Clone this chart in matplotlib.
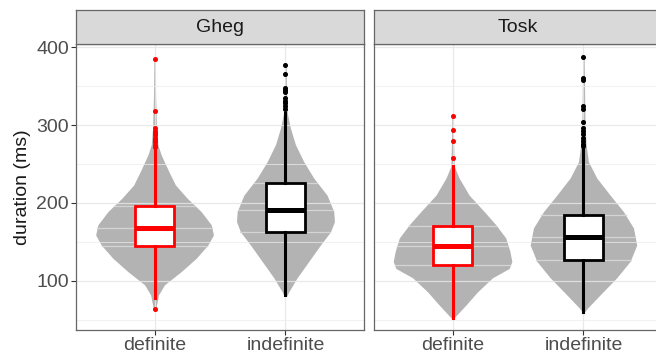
import matplotlib
matplotlib.use("Agg")
import matplotlib.pyplot as plt
import numpy as np

plt.rcParams['font.family'] = ['Liberation Sans', 'DejaVu Sans']

dialects = ["Gheg", "Tosk"]
categories = ["definite", "indefinite"]
colours = ["#ff0000", "#000000"]

# violin outlines: duration (ms) and half width (x units)
gheg_def_y = [385, 339, 296, 275, 262, 240, 223, 206, 189, 172, 159, 146, 129, 112, 95, 82, 65]
gheg_def_w = [0.005, 0.008, 0.015, 0.025, 0.05, 0.11, 0.16, 0.25, 0.356, 0.433, 0.45, 0.407, 0.318, 0.204, 0.076, 0.03, 0.01]
gheg_ind_y = [378, 345, 316, 296, 275, 253, 232, 210, 189, 176, 163, 146, 125, 104, 86, 80]
gheg_ind_w = [0.005, 0.008, 0.013, 0.038, 0.076, 0.14, 0.216, 0.318, 0.369, 0.374, 0.344, 0.267, 0.178, 0.089, 0.025, 0.008]
tosk_def_y = [312, 280, 247, 232, 210, 189, 172, 155, 138, 125, 116, 104, 86, 69, 56, 52]
tosk_def_w = [0.005, 0.008, 0.013, 0.05, 0.127, 0.242, 0.331, 0.407, 0.438, 0.453, 0.433, 0.305, 0.191, 0.102, 0.03, 0.008]
tosk_ind_y = [388, 358, 324, 296, 275, 253, 232, 210, 189, 168, 146, 125, 104, 82, 65, 60]
tosk_ind_w = [0.005, 0.008, 0.01, 0.013, 0.02, 0.038, 0.102, 0.204, 0.305, 0.382, 0.407, 0.356, 0.254, 0.127, 0.03, 0.008]

# box statistics: q1, median, q3, lower whisker, upper whisker
gheg_def_box = [145, 168, 196, 78, 268]
gheg_ind_box = [163, 191, 226, 82, 315]
tosk_def_box = [120, 145, 171, 53, 247]
tosk_ind_box = [127, 156, 184, 60, 270]

gheg_def_out = [385, 318, 296, 293, 290, 287, 284, 281, 278, 275, 272, 64]
gheg_ind_out = [377, 366, 348, 345, 343, 335, 331, 328, 324, 320]
tosk_def_out = [312, 294, 280, 258]
tosk_ind_out = [387, 361, 358, 324, 321, 304, 296, 293, 289, 284, 280, 276, 273]

panels = {
    "Gheg": [(gheg_def_y, gheg_def_w, gheg_def_box, gheg_def_out),
             (gheg_ind_y, gheg_ind_w, gheg_ind_box, gheg_ind_out)],
    "Tosk": [(tosk_def_y, tosk_def_w, tosk_def_box, tosk_def_out),
             (tosk_ind_y, tosk_ind_w, tosk_ind_box, tosk_ind_out)],
}

W, H = 656, 358
fig = plt.figure(figsize=(W / 100, H / 100), dpi=100)

panel_left = [76, 374]
panel_w, panel_top, panel_bot = 288, 44, 330
strip_top = 10
border = "#666666"
text_col = "#4d4d4d"
fs = 14

for k, name in enumerate(dialects):
    x0 = panel_left[k]
    ax = fig.add_axes([x0 / W, (H - panel_bot) / H, panel_w / W, (panel_bot - panel_top) / H])
    ax.set_ylim(37, 404)
    ax.set_yticks([100, 200, 300, 400])
    ax.set_yticks([50, 150, 250, 350], minor=True)
    ax.grid(True, which="major", color="#e6e6e6", lw=0.9, alpha=0.85)
    ax.grid(True, which="minor", color="#ececec", lw=0.6, alpha=0.85)
    ax.set_axisbelow("line")
    ax.tick_params(axis="both", which="major", length=3.6, color="#333333", width=0.8,
                   labelsize=fs, labelcolor=text_col, pad=1.5)
    ax.tick_params(axis="both", which="minor", length=0)
    for s in ax.spines.values():
        s.set_color(border)
        s.set_linewidth(0.9)
    if k == 1:
        ax.tick_params(axis="y", which="major", length=0, labelleft=False)
    else:
        ax.set_ylabel("duration (ms)", fontsize=fs, color="#1a1a1a", labelpad=4)

    for i, (vy, vw, box, out) in enumerate(panels[name]):
        pos = i + 1
        vy = np.array(vy, dtype=float)
        vw = np.array(vw)
        ax.fill_betweenx(vy, pos - vw, pos + vw, color="#b3b3b3", lw=0, zorder=1)
        # quantile lines across the violin
        order = np.argsort(vy)
        for q in box[:3]:
            hw = np.interp(q, vy[order], vw[order])
            ax.plot([pos - hw, pos + hw], [q, q], color="#d4d4d4", lw=0.9, zorder=1.2)
        q1, med, q3, lo, hi = box
        stats = [{"q1": q1, "med": med, "q3": q3, "whislo": lo, "whishi": hi, "fliers": out}]
        c = colours[i]
        ax.bxp(stats, positions=[pos], widths=0.3, patch_artist=True, showcaps=False,
               boxprops=dict(facecolor="white", edgecolor=c, lw=2.0),
               medianprops=dict(color=c, lw=3.6),
               whiskerprops=dict(color=c, lw=2.2),
               flierprops=dict(marker="o", markersize=2.6, markerfacecolor=c,
                               markeredgecolor=c, lw=0),
               zorder=3)
    ax.set_xlim(0.4, 2.6)
    ax.set_xticks([1, 2])
    ax.set_xticklabels(categories)

    # facet strip
    sax = fig.add_axes([x0 / W, (H - panel_top) / H, panel_w / W, (panel_top - strip_top) / H])
    sax.set_facecolor("#d9d9d9")
    sax.set_xticks([])
    sax.set_yticks([])
    for s in sax.spines.values():
        s.set_color(border)
        s.set_linewidth(0.9)
    sax.text(0.5, 0.5, name, ha="center", va="center", fontsize=fs, color="#1a1a1a",
             transform=sax.transAxes)

fig.savefig("out.png", dpi=100)
